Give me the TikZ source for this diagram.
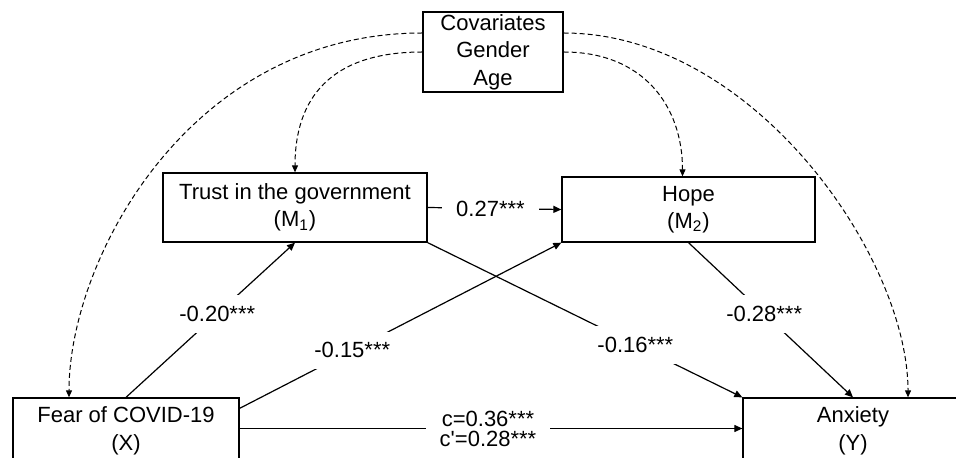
\documentclass[tikz,border=0pt]{standalone}
\usepackage{fontspec}
\setmainfont{Liberation Sans}
\usetikzlibrary{arrows.meta}

\tikzset{
	var/.style={draw, line width=0.65pt, align=center, inner sep=0pt},
	effect/.style={line width=0.6pt, -{Triangle[length=4pt,width=3.5pt]}},
	control/.style={line width=0.5pt, dash pattern=on 2.5pt off 1.5pt, -{Triangle[length=3.5pt,width=3pt]}},
	coef/.style={fill=white, inner xsep=7pt, inner ysep=5.5pt}
}

\begin{document}
\begin{tikzpicture}[x=0.5pt, y=-0.5pt, every node/.style={font=\fontsize{11}{13.75}\selectfont}]
	\useasboundingbox (0,0) rectangle (956,458);

	\node[var, minimum width=70pt, minimum height=40pt] (cov) at (493,52) {Covariates\\Gender\\Age};
	\node[var, minimum width=132pt, minimum height=34.5pt] (trust) at (295,207.5) {Trust in the government\\(M\textsubscript{1})};
	\node[var, minimum width=126.5pt, minimum height=32.5pt] (hope) at (688.5,209.5) {Hope\\(M\textsubscript{2})};
	\node[var, minimum width=113pt, minimum height=33pt] (fear) at (126,431) {Fear of COVID-19\\(X)};
	\node[var, minimum width=110pt, minimum height=33pt] (anx) at (853,431) {Anxiety\\(Y)};

	\draw[control]
	([yshift=9.5pt]cov.west) .. controls +(-116.5pt,0) and +(0,69pt) .. ([xshift=-28.5pt]fear.north);
	\draw[control]
	(cov.west) .. controls +(-46.5pt,0) and +(0,36.5pt) .. (trust.north);
	\draw[control]
	(cov.east) .. controls +(40pt,0) and +(0,35pt) .. ([xshift=-3pt]hope.north);
	\draw[control]
	([yshift=9.5pt]cov.east) .. controls +(95pt,0) and +(0,70pt) .. ([xshift=27.5pt]anx.north);

	\draw[effect] (fear.north) -- node[coef, pos=0.54] {-0.20***} (trust.south);
	\draw[effect] ([yshift=-5.5pt]fear.north east) -- node[coef, pos=0.35] {-0.15***} (hope.south west);
	\draw[effect] (trust.east) -- node[coef, pos=0.47] {0.27***} (hope.west);
	\draw[effect] (trust.south east) -- node[coef, pos=0.66] {-0.16***} (anx.north west);
	\draw[effect] (hope.south) -- node[coef, pos=0.46] {-0.28***} (anx.north);
	\draw[effect] ([yshift=1.25pt]fear.east) -- node[coef, align=center, font=\fontsize{11}{10}\selectfont, pos=0.494] {c=0.36***\\c\textquotesingle=0.28***} ([yshift=1.25pt]anx.west);
\end{tikzpicture}
\end{document}
